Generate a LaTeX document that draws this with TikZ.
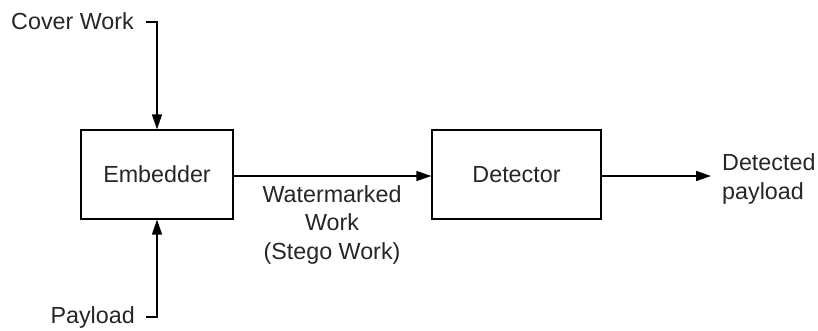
\documentclass[tikz,border=0pt]{standalone}
\usepackage{fontspec}
\setmainfont{Liberation Sans}
\usetikzlibrary{arrows.meta}
\begin{document}
\begin{tikzpicture}[x=1pt,y=-1pt,
  lbl/.style={font=\fontsize{23.3}{28.5}\selectfont, inner sep=0pt, text=black!85},
  blk/.style={draw, line width=1.3pt, minimum width=152pt, minimum height=89pt, inner sep=0pt, font=\fontsize{23.3}{28.5}\selectfont, text=black!85},
  flow/.style={line width=1.6pt, -{Triangle[length=15pt,width=10pt]}}]
\useasboundingbox (0,0) rectangle (818,330);
% processing blocks
\node[blk] (emb) at (157,174.5) {Embedder};
\node[blk, minimum width=169pt] (det) at (516.5,174.5) {Detector};
% inputs and outputs
\node[lbl, anchor=east] (cover) at (134,21) {Cover Work};
\node[lbl, anchor=east] (pay) at (135,317) {Payload};
\node[lbl, align=center, anchor=north] (wm) at (332,185) {Watermarked\\Work\\(Stego Work)};
\node[lbl, align=left, anchor=west] (out) at (722,179) {Detected\\payload};
\coordinate (cin) at (146,22);
\coordinate (pin) at (146,317);
\coordinate (oend) at (711,176);
% connectors
\draw[flow] (cin) -- (emb.north |- cin) -- (emb.north);
\draw[flow] (pin) -- (emb.south |- pin) -- (emb.south);
\draw[flow] (emb.east |- oend) -- (det.west |- oend);
\draw[flow] (det.east |- oend) -- (oend);
\end{tikzpicture}
\end{document}
